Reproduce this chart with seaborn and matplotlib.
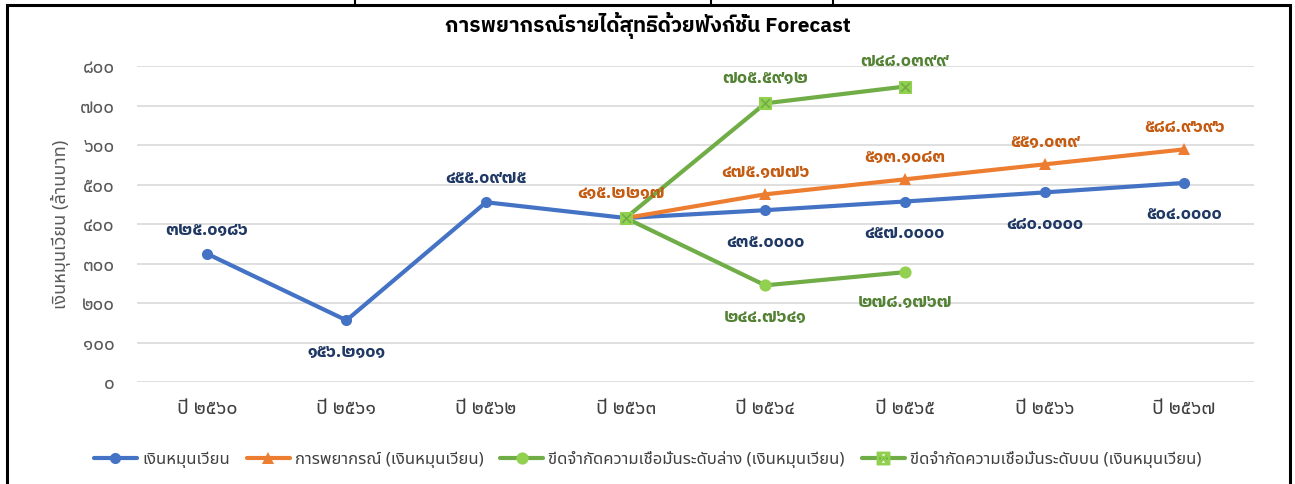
import matplotlib
matplotlib.use("Agg")
import matplotlib.pyplot as plt
from matplotlib.patches import Rectangle
from matplotlib.lines import Line2D
import seaborn as sns

# data (years in Buddhist era)
years = ["2560", "2561", "2562", "2563", "2564", "2565", "2566", "2567"]
actual = [325.0186, 156.2101, 455.0975, 415.2217, 435.0, 457.0, 480.0, 504.0]
actual_labels = ["325.0186", "156.2101", "455.0975", None, "435.0000", "457.0000", "480.0000", "504.0000"]

forecast_years = ["2563", "2564", "2565", "2566", "2567"]
forecast = [415.2217, 475.1776, 513.1083, 551.039, 588.9696]
forecast_labels = ["415.2217", "475.1776", "513.1083", "551.039", "588.9696"]

bound_years = ["2563", "2564", "2565"]
lower = [415.2217, 244.7641, 278.1767]
lower_labels = [None, "244.7641", "278.1767"]
upper = [415.2217, 705.5912, 748.0399]
upper_labels = [None, "705.5912", "748.0399"]

names = ["เงินหมุนเวียน", "การพยากรณ์ (เงินหมุนเวียน)",
         "ขีดจำกัดความเชื่อมั่นระดับล่าง (เงินหมุนเวียน)",
         "ขีดจำกัดความเชื่อมั่นระดับบน (เงินหมุนเวียน)"]

thai_digits = str.maketrans("0123456789", "๐๑๒๓๔๕๖๗๘๙")
def thai(s):
    return s.translate(thai_digits)

sns.set_theme(style="white")
plt.rcParams['font.family'] = ['Noto Sans Thai', 'Noto Sans', 'DejaVu Sans']
bold_family = ['IBM Plex Sans Thai', 'Noto Sans', 'DejaVu Sans']

fig = plt.figure(figsize=(12.95, 4.84), dpi=100)
ax = fig.add_axes([0.1058, 0.2107, 0.8625, 0.6529])

pos = {y: i for i, y in enumerate(years)}
blue, orange, green, light_green = "#4472C4", "#ED7D31", "#70AD47", "#92D050"

sns.lineplot(x=[pos[y] for y in years], y=actual, ax=ax, color=blue, lw=3,
             marker="o", markersize=8, markeredgewidth=0, label=names[0])
sns.lineplot(x=[pos[y] for y in forecast_years], y=forecast, ax=ax, color=orange, lw=3,
             marker="^", markersize=8, markeredgewidth=0, label=names[1])
sns.lineplot(x=[pos[y] for y in bound_years], y=lower, ax=ax, color=green, lw=3,
             marker="o", markersize=8, markerfacecolor=light_green, markeredgecolor=light_green,
             label=names[2])
sns.lineplot(x=[pos[y] for y in bound_years], y=upper, ax=ax, color=green, lw=3,
             marker="s", markersize=8, markerfacecolor=light_green, markeredgecolor=light_green,
             label=names[3])
# x over the square markers of the upper bound
ax.scatter([pos[y] for y in bound_years], upper, marker="x", s=40, color=green,
           linewidths=1.2, zorder=5)

def put_labels(xs, vals, labels, color, dys, dx=0):
    for x, v, lab, dy in zip(xs, vals, labels, dys):
        if lab is None:
            continue
        ax.annotate(thai(lab), (pos[x], v), xytext=(dx, dy), textcoords="offset points",
                    ha="center", va="center", color=color, fontsize=12.5, fontweight="bold",
                    family=bold_family)

navy, dark_orange, dark_green = "#203864", "#C55A11", "#548235"
put_labels(years, actual, actual_labels, navy, [17, -23, 17, 0, -23, -23, -23, -23])
put_labels(forecast_years[:1], forecast[:1], forecast_labels[:1], dark_orange, [18], dx=-3)
put_labels(forecast_years[1:], forecast[1:], forecast_labels[1:], dark_orange, [16] * 4)
put_labels(bound_years, lower, lower_labels, dark_green, [0, -23, -22])
put_labels(bound_years, upper, upper_labels, dark_green, [0, 18, 18])

ax.set_xlim(-0.5, 7.5)
ax.set_ylim(0, 800)
ax.set_yticks(range(0, 801, 100))
ax.set_yticklabels([thai(str(v)) for v in range(0, 801, 100)])
ax.set_xticks(range(len(years)))
ax.set_xticklabels(["ปี " + thai(y) for y in years])
ax.tick_params(axis="y", length=0, pad=16, labelsize=13.5, labelcolor="#595959")
ax.tick_params(axis="x", length=0, pad=12, labelsize=14, labelcolor="#404040")
ax.yaxis.grid(True, color="#D9D9D9", lw=1.2)
ax.set_axisbelow(True)
for s in ax.spines.values():
    s.set_visible(False)
ax.set_ylabel("เงินหมุนเวียน (ล้านบาท)", fontsize=13, color="#595959", labelpad=6)
ax.set_xlabel("")

fig.suptitle("การพยากรณ์รายได้สุทธิด้วยฟังก์ชั่น Forecast", x=0.5, y=0.975,
             fontsize=15, fontweight="bold", color="#000000", family=bold_family)

handles, labels = ax.get_legend_handles_labels()
ax.legend_.remove()
handles[3] = Line2D([], [], color=green, lw=3, marker="$\\boxtimes$", markersize=9,
                    markerfacecolor=green, markeredgecolor=light_green)
fig.legend(handles, labels, loc="center", bbox_to_anchor=(0.5, 0.05), ncol=4,
           frameon=False, fontsize=12, handlelength=2.6, columnspacing=1.0,
           handletextpad=0.3, labelcolor="#404040")

# outer frame of the spreadsheet cell
fig.patches.append(Rectangle((7 / 1295, -0.1), 1283 / 1295, 1.1 - 5 / 484, transform=fig.transFigure,
                             fill=False, edgecolor="black", lw=2.2))
for xp in [355, 711, 833]:
    fig.add_artist(Line2D([xp / 1295, xp / 1295], [1 - 5 / 484, 1], transform=fig.transFigure,
                          color="black", lw=1.5))

fig.savefig("out.png")
